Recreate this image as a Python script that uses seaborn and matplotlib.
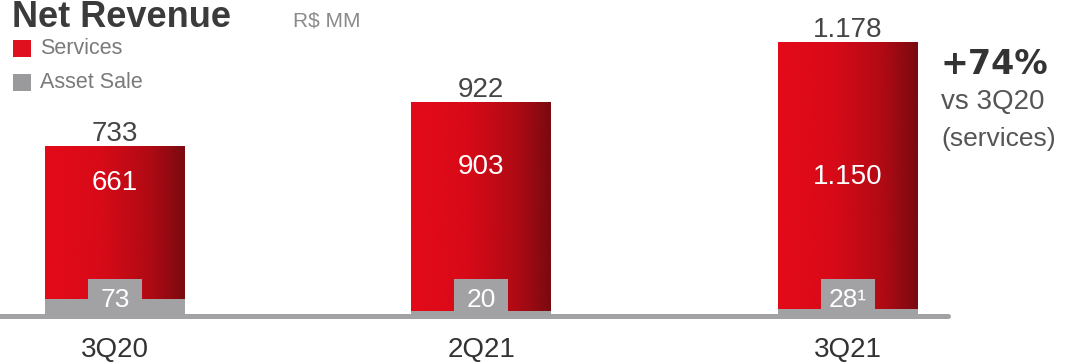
import matplotlib
matplotlib.use('Agg')
import matplotlib.pyplot as plt
import seaborn as sns
import pandas as pd
import numpy as np
from matplotlib.colors import LinearSegmentedColormap
from matplotlib.patches import Rectangle

# ---- data ----
quarters = ['3Q20', '2Q21', '3Q21']
services = [661, 903, 1150]
asset_sale = [73, 20, 28]
totals = [733, 922, 1178]
total_labels = ['733', '922', '1.178']
service_labels = ['661', '903', '1.150']
asset_labels = ['73', '20', '28¹']

# ---- layout / style ----
inner_label_pos = [571, 640, 597]
RED = '#e20a17'
GRAY = '#a2a2a4'
YMAX = 1360

sns.set_theme(style='white')
plt.rcParams['font.family'] = ['Liberation Sans', 'DejaVu Sans']

W, H = 1066, 362
fig = plt.figure(figsize=(W / 100, H / 100), dpi=100)
ax = fig.add_axes([0, 46 / H, 948 / W, 316 / H])

df = pd.DataFrame({'quarter': quarters, 'total': totals, 'asset': asset_sale})
bw = 0.382
sns.barplot(data=df, x='quarter', y='total', color=RED, width=bw, ax=ax,
            saturation=1, linewidth=0, errorbar=None)
red_patches = list(ax.patches)
sns.barplot(data=df, x='quarter', y='asset', color=GRAY, width=bw, ax=ax,
            saturation=1, linewidth=0, errorbar=None)
gray_patches = [p for p in ax.patches if p not in red_patches]

# gradient fill for red bars
cmap = LinearSegmentedColormap.from_list(
    'redgrad', [(0, '#e40a18'), (0.4, '#d80a18'), (0.75, '#b00a14'), (1, '#7a0a10')])
grad = np.linspace(0, 1, 256).reshape(1, -1)
for p in red_patches:
    x0, y0 = p.get_x(), p.get_y()
    w, h = p.get_width(), p.get_height()
    im = ax.imshow(grad, cmap=cmap, aspect='auto', extent=[x0, x0 + w, y0, y0 + h],
                   zorder=1.5, interpolation='bicubic')
    im.set_clip_path(p)
for p in gray_patches:
    p.set_zorder(2)

ax.set_xlim(-0.314, 2.274)
ax.set_ylim(0, YMAX)

# baseline
ax.axhline(0, color=GRAY, lw=3.6, clip_on=False, zorder=2.5)

# labels
box_w, box_h = 0.147, 160
for i in range(len(quarters)):
    ax.annotate(total_labels[i], (i, totals[i]), xytext=(0, 5), textcoords='offset pixels',
                ha='center', va='baseline', fontsize=20, color='#454545')
    ax.text(i, inner_label_pos[i], service_labels[i], ha='center', va='center',
            fontsize=20, color='white', zorder=4)
    ax.add_patch(Rectangle((i - box_w / 2, 0), box_w, box_h, facecolor=GRAY,
                           edgecolor='none', zorder=3))
    ax.text(i, 70, asset_labels[i], ha='center', va='center', fontsize=19,
            color='white', zorder=4)

ax.set_xlabel('')
ax.set_ylabel('')
ax.set_yticks([])
ax.tick_params(axis='x', length=0, pad=15, labelsize=20, labelcolor='#333333')
for s in ax.spines.values():
    s.set_visible(False)

# title & legend
fig.text(12 / W, 1 - 27 / H, 'Net Revenue', fontsize=26, weight='bold',
         color='#3b3b3b', va='baseline', ha='left')
fig.text(293 / W, 1 - 26 / H, 'R$ MM', fontsize=15, color='#8a8a8a',
         va='baseline', ha='left')
fig.add_artist(Rectangle((13 / W, 1 - 57 / H), 18 / W, 17 / H, facecolor='#e0101e',
                         edgecolor='none', transform=fig.transFigure))
fig.text(40 / W, 1 - 49 / H, 'Services', fontsize=15.5, color='#7a7a7a',
         va='center', ha='left')
fig.add_artist(Rectangle((13 / W, 1 - 91 / H), 18 / W, 17 / H, facecolor='#9a9a9c',
                         edgecolor='none', transform=fig.transFigure))
fig.text(40 / W, 1 - 82 / H, 'Asset Sale', fontsize=15.5, color='#7a7a7a',
         va='center', ha='left')

# right annotation
fig.text(941 / W, 1 - 65 / H, '+74%', fontsize=24, weight='bold',
         family=['DejaVu Sans'], color='#333333', va='center', ha='left')
fig.text(941 / W, 1 - 102 / H, 'vs 3Q20', fontsize=20, color='#555555',
         va='center', ha='left')
fig.text(941 / W, 1 - 139 / H, '(services)', fontsize=19, color='#555555',
         va='center', ha='left')

fig.savefig('out.png', dpi=100)
